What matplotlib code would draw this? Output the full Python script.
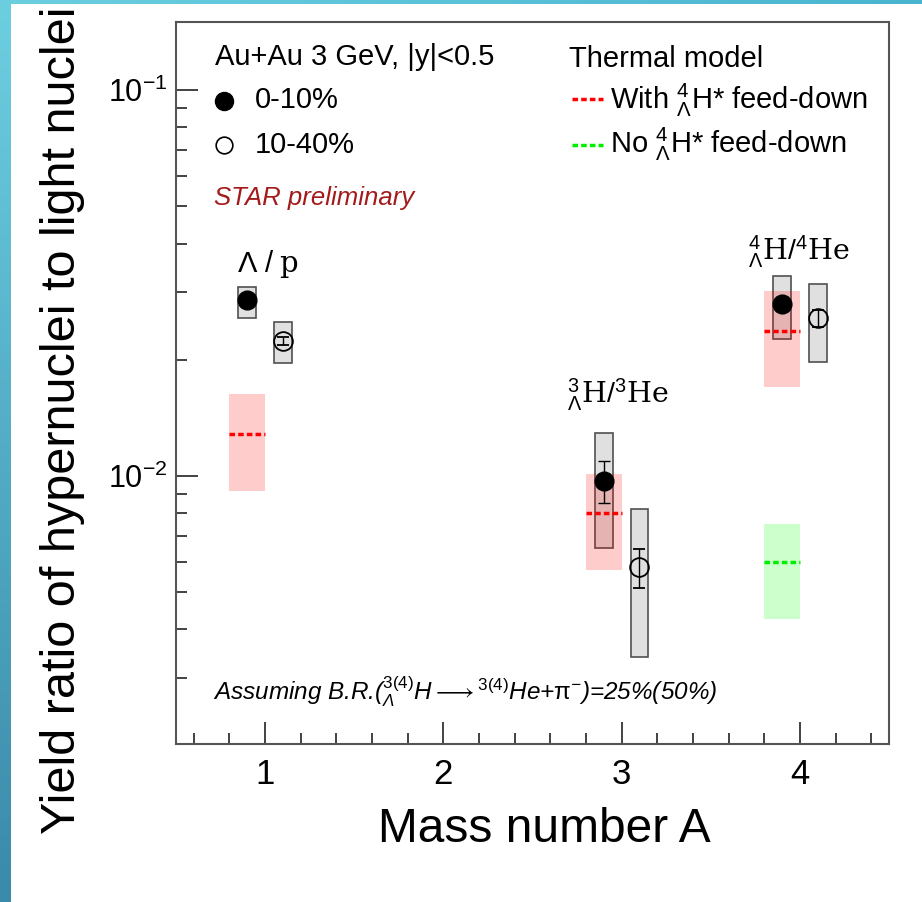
import numpy as np
import matplotlib
matplotlib.use('Agg')
import matplotlib.pyplot as plt
from matplotlib.ticker import MultipleLocator, NullFormatter, LogLocator

plt.rcParams['font.family'] = ['Liberation Sans', 'DejaVu Sans']
plt.rcParams['mathtext.fontset'] = 'custom'
plt.rcParams['mathtext.rm'] = 'Liberation Sans'
plt.rcParams['mathtext.it'] = 'Liberation Sans:italic'
plt.rcParams['mathtext.bf'] = 'Liberation Sans:bold'
plt.rcParams['mathtext.default'] = 'regular'

# STAR data, 0-10% centrality
central_x = [0.9, 2.9, 3.9]
central_y = [0.0286, 0.0097, 0.0279]
central_stat = [0.0003, 0.0012, 0.0012]
central_sys_lo = [0.0256, 0.0065, 0.0226]
central_sys_hi = [0.0309, 0.0129, 0.0330]

# STAR data, 10-40% centrality
periph_x = [1.1, 3.1, 4.1]
periph_y = [0.0224, 0.0058, 0.0256]
periph_stat = [0.0005, 0.00068, 0.0013]
periph_sys_lo = [0.0196, 0.0034, 0.0197]
periph_sys_hi = [0.0251, 0.0082, 0.0314]

# thermal model
thermal_x = [0.9, 2.9, 3.9]
thermal_fd = [0.01285, 0.0080, 0.0238]
thermal_fd_lo = [0.00914, 0.0057, 0.0170]
thermal_fd_hi = [0.0163, 0.0101, 0.0301]
thermal_nofd_x = [3.9]
thermal_nofd = [0.0060]
thermal_nofd_lo = [0.00427]
thermal_nofd_hi = [0.00751]

W, H = 922, 902
fig = plt.figure(figsize=(W / 100, H / 100), dpi=100)

# slide border strips
left_strip = fig.add_axes([0, 0, 10 / W, 1])
left_strip.imshow(np.linspace(0, 1, 256).reshape(-1, 1), aspect='auto',
                  cmap=matplotlib.colors.LinearSegmentedColormap.from_list('l', ['#6ccfe0', '#3a8aa9']))
left_strip.axis('off')
top_strip = fig.add_axes([0, 1 - 4 / H, 1, 4 / H])
top_strip.imshow(np.linspace(0, 1, 256).reshape(1, -1), aspect='auto',
                 cmap=matplotlib.colors.LinearSegmentedColormap.from_list('t', ['#6ccfe0', '#4ab4cf']))
top_strip.axis('off')

L, R, T, B = 176, 889, 22, 744
ax = fig.add_axes([L / W, 1 - B / H, (R - L) / W, (B - T) / H])
ax.set_yscale('log')
ax.set_xlim(0.5, 4.5)
ax.set_ylim(0.00202, 0.150)


def apos(px, py):
    return ((px - L) / (R - L), (B - py) / (B - T))


# systematic boxes
cx = np.array(central_x)
px_ = np.array(periph_x)
ax.bar(cx, np.array(central_sys_hi) - np.array(central_sys_lo), bottom=central_sys_lo,
       width=0.1, color='#e0e0e0', edgecolor='#505050', linewidth=1.2, zorder=1)
ax.bar(px_, np.array(periph_sys_hi) - np.array(periph_sys_lo), bottom=periph_sys_lo,
       width=0.1, color='#e0e0e0', edgecolor='#505050', linewidth=1.2, zorder=1)

# thermal model bands
tx = np.array(thermal_x)
ax.bar(tx, np.array(thermal_fd_hi) - np.array(thermal_fd_lo), bottom=thermal_fd_lo,
       width=0.2, color='red', alpha=0.2, linewidth=0, zorder=2)
ax.hlines(thermal_fd, tx - 0.1, tx + 0.1, colors='red', linestyles=(0, (1.6, 0.9)),
          linewidth=2.5, zorder=3)
nx = np.array(thermal_nofd_x)
ax.bar(nx, np.array(thermal_nofd_hi) - np.array(thermal_nofd_lo), bottom=thermal_nofd_lo,
       width=0.2, color='#00ff00', alpha=0.2, linewidth=0, zorder=2)
ax.hlines(thermal_nofd, nx - 0.1, nx + 0.1, colors='#00ee00', linestyles=(0, (1.6, 0.9)),
          linewidth=2.5, zorder=3)

# data points
ax.errorbar(central_x, central_y, yerr=central_stat, fmt='o', color='black', ms=13.5,
            elinewidth=1, capsize=4, zorder=5)
ax.errorbar(periph_x, periph_y, yerr=periph_stat, fmt='o', color='black', mfc='none',
            mew=1.3, ms=13.5, elinewidth=1, capsize=4, zorder=5)

# axes styling
for s in ax.spines.values():
    s.set_color('#555555')
    s.set_linewidth(1.5)
ax.xaxis.set_major_locator(MultipleLocator(1))
ax.xaxis.set_minor_locator(MultipleLocator(0.2))
ax.yaxis.set_major_locator(LogLocator(base=10))
ax.yaxis.set_minor_locator(LogLocator(base=10, subs=np.arange(2, 10)))
ax.yaxis.set_minor_formatter(NullFormatter())
ax.tick_params(axis='both', which='both', direction='in', color='#222222', width=1.2)
ax.tick_params(axis='both', which='major', length=16)
ax.tick_params(axis='both', which='minor', length=8)
ax.tick_params(axis='x', which='major', labelsize=25, pad=10)
ax.tick_params(axis='y', which='major', labelsize=22, pad=6)
ax.tick_params(top=False, right=False)

fig.text(63 / W, 1 - 420 / H, 'Yield ratio of hypernuclei to light nuclei', rotation=90,
         ha='center', va='center', fontsize=35)
fig.text(544 / W, 1 - 830 / H, 'Mass number A', ha='center', va='center', fontsize=34.5)

# left legend
ax.text(*apos(215, 65), 'Au+Au 3 GeV, |y|<0.5', transform=ax.transAxes, fontsize=21, va='baseline')
ax.plot(*apos(224, 101), 'o', color='black', ms=13, transform=ax.transAxes, clip_on=False)
ax.text(*apos(255, 108), '0-10%', transform=ax.transAxes, fontsize=21, va='baseline')
ax.plot(*apos(224, 145), 'o', color='black', mfc='white', mew=1.2, ms=12,
        transform=ax.transAxes, clip_on=False)
ax.text(*apos(255, 153), '10-40%', transform=ax.transAxes, fontsize=21, va='baseline')
ax.text(*apos(214, 205), 'STAR preliminary', transform=ax.transAxes, fontsize=18.5,
        style='italic', color='#a31a1a', va='baseline')

# right legend
ax.text(*apos(569, 67), 'Thermal model', transform=ax.transAxes, fontsize=21, va='baseline')
x0, y0 = apos(572, 99)
x1, _ = apos(603, 99)
ax.plot([x0, x1], [y0, y0], color='red', lw=2.5, ls=(0, (1.6, 0.9)),
        transform=ax.transAxes, clip_on=False)
ax.text(*apos(610, 109), r'With ${}^{4}_{\Lambda}$H* feed-down', transform=ax.transAxes,
        fontsize=21, va='baseline')
x0, y0 = apos(572, 145)
ax.plot([x0, x1], [y0, y0], color='#00ee00', lw=2.5, ls=(0, (1.6, 0.9)),
        transform=ax.transAxes, clip_on=False)
ax.text(*apos(610, 153), r'No ${}^{4}_{\Lambda}$H* feed-down', transform=ax.transAxes,
        fontsize=21, va='baseline')

# ratio labels
ax.text(*apos(237, 272), r'$\Lambda\;/\;\mathrm{p}$', transform=ax.transAxes, fontsize=21,
        math_fontfamily='dejavuserif', va='baseline')
ax.text(*apos(567, 403), r'${}^{3}_{\Lambda}\mathrm{H}/{}^{3}\mathrm{He}$', transform=ax.transAxes,
        fontsize=20.5, math_fontfamily='dejavuserif', va='baseline')
ax.text(*apos(748, 260), r'${}^{4}_{\Lambda}\mathrm{H}/{}^{4}\mathrm{He}$', transform=ax.transAxes,
        fontsize=20.5, math_fontfamily='dejavuserif', va='baseline')

ax.text(*apos(213, 700),
        r'Assuming B.R.(${}^{\mathit{3(4)}}_{\Lambda}\mathit{H}\longrightarrow{}^{\mathit{3(4)}}\mathit{He}$+$\mathrm{\pi}^{-}$)=25%(50%)',
        transform=ax.transAxes, fontsize=17.5, style='italic', va='baseline')

fig.savefig('out.png', dpi=100)
